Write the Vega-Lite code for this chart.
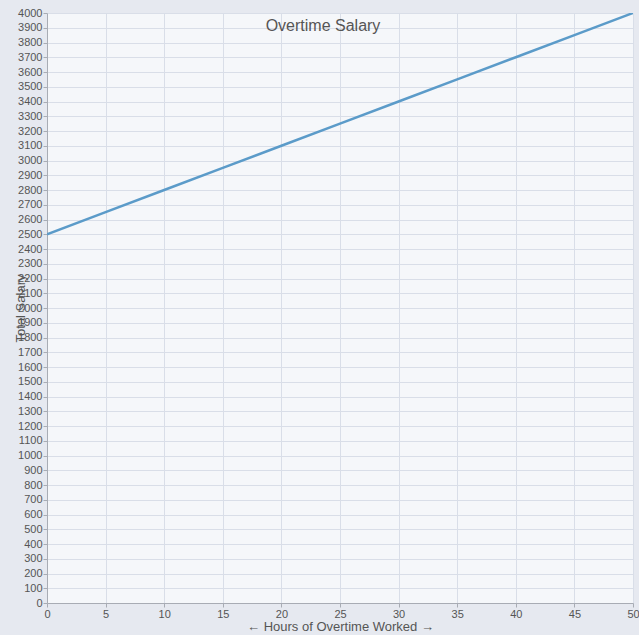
{
  "$schema": "https://vega.github.io/schema/vega-lite/v6.json",
  "autosize": {"type": "none"},
  "width": 586,
  "height": 590,
  "padding": {"left": 47, "top": 13, "right": 6, "bottom": 32},
  "background": "#e6e9f0",
  "title": {
    "text": "Overtime Salary",
    "offset": -27,
    "dx": -17,
    "anchor": "middle",
    "font": "Liberation Sans",
    "fontSize": 16,
    "fontWeight": "normal",
    "color": "#555555"
  },
  "config": {
    "view": {"fill": "#f5f7fa", "stroke": null},
    "axis": {
      "labelFont": "Liberation Sans",
      "titleFont": "Liberation Sans",
      "labelFontSize": 11,
      "labelColor": "#555555",
      "titleColor": "#555555",
      "titleFontSize": 13,
      "titleFontWeight": "normal",
      "domainColor": "#a8acb4",
      "tickColor": "#a8acb4",
      "gridColor": "#d9dee8",
      "tickSize": 4
    }
  },
  "data": {
    "values": [
      {"hours": 0, "salary": 2500},
      {"hours": 5, "salary": 2650},
      {"hours": 10, "salary": 2800},
      {"hours": 15, "salary": 2950},
      {"hours": 20, "salary": 3100},
      {"hours": 25, "salary": 3250},
      {"hours": 30, "salary": 3400},
      {"hours": 35, "salary": 3550},
      {"hours": 40, "salary": 3700},
      {"hours": 45, "salary": 3850},
      {"hours": 50, "salary": 4000}
    ]
  },
  "mark": {"type": "line", "color": "#5b9bc9", "strokeWidth": 2.5, "clip": true},
  "encoding": {
    "x": {
      "field": "hours",
      "type": "quantitative",
      "scale": {"domain": [0, 50], "nice": false, "zero": false},
      "axis": {
        "values": [0, 5, 10, 15, 20, 25, 30, 35, 40, 45, 50],
        "format": "d",
        "title": "← Hours of Overtime Worked →",
        "titleY": 17,
        "titleBaseline": "top",
        "labelPadding": 1,
        "labelFlush": false
      }
    },
    "y": {
      "field": "salary",
      "type": "quantitative",
      "scale": {"domain": [0, 4000], "nice": false},
      "axis": {
        "values": [0, 100, 200, 300, 400, 500, 600, 700, 800, 900, 1000, 1100, 1200, 1300, 1400, 1500, 1600, 1700, 1800, 1900, 2000, 2100, 2200, 2300, 2400, 2500, 2600, 2700, 2800, 2900, 3000, 3100, 3200, 3300, 3400, 3500, 3600, 3700, 3800, 3900, 4000],
        "format": "d",
        "title": "Total Salary",
        "titleX": -27,
        "titleBaseline": "middle",
        "titleAngle": -90,
        "labelPadding": 1,
        "labelFlush": false,
        "labelOverlap": false
      }
    }
  }
}
